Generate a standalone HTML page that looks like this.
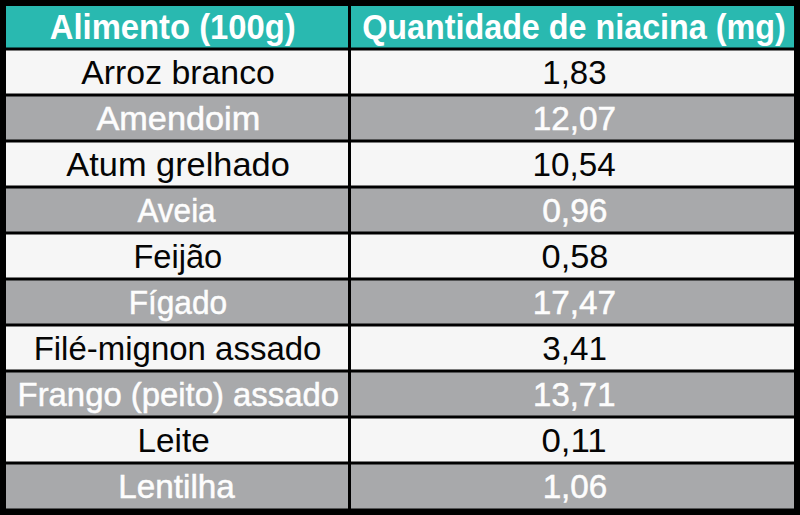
<!DOCTYPE html>
<html lang="pt"><head><meta charset="utf-8"><title>Niacina</title>
<style>
html,body{margin:0;padding:0;background:#000000;}
body{width:800px;height:515px;overflow:hidden;}
svg{display:block;}
text{font-family:"Liberation Sans",Arial,sans-serif;font-size:33.7px;}
.h{font-weight:bold;fill:#ffffff;font-size:34.4px;stroke:#29b9b0;stroke-width:0px;}
.d{fill:#050505;}
.l{fill:#fdfdfd;stroke:#fdfdfd;stroke-width:0.5px;}
</style></head><body>
<svg width="800" height="515" viewBox="0 0 800 515">
<rect x="0" y="0" width="800" height="515" fill="#000000"/>
<rect x="6" y="6" width="342" height="41.5" fill="#29b9b0"/>
<rect x="351" y="6" width="443" height="41.5" fill="#29b9b0"/>
<rect x="6" y="50.5" width="342" height="43.0" fill="#f6f6f6"/>
<rect x="351" y="50.5" width="443" height="43.0" fill="#f6f6f6"/>
<rect x="6" y="96.5" width="342" height="43.0" fill="#a8a9ab"/>
<rect x="351" y="96.5" width="443" height="43.0" fill="#a8a9ab"/>
<rect x="6" y="142.5" width="342" height="43.0" fill="#f6f6f6"/>
<rect x="351" y="142.5" width="443" height="43.0" fill="#f6f6f6"/>
<rect x="6" y="188.5" width="342" height="43.0" fill="#a8a9ab"/>
<rect x="351" y="188.5" width="443" height="43.0" fill="#a8a9ab"/>
<rect x="6" y="234.5" width="342" height="43.0" fill="#f6f6f6"/>
<rect x="351" y="234.5" width="443" height="43.0" fill="#f6f6f6"/>
<rect x="6" y="280.5" width="342" height="43.0" fill="#a8a9ab"/>
<rect x="351" y="280.5" width="443" height="43.0" fill="#a8a9ab"/>
<rect x="6" y="326.5" width="342" height="43.0" fill="#f6f6f6"/>
<rect x="351" y="326.5" width="443" height="43.0" fill="#f6f6f6"/>
<rect x="6" y="372.5" width="342" height="43.0" fill="#a8a9ab"/>
<rect x="351" y="372.5" width="443" height="43.0" fill="#a8a9ab"/>
<rect x="6" y="418.5" width="342" height="43.0" fill="#f6f6f6"/>
<rect x="351" y="418.5" width="443" height="43.0" fill="#f6f6f6"/>
<rect x="6" y="464.5" width="342" height="44.0" fill="#a8a9ab"/>
<rect x="351" y="464.5" width="443" height="44.0" fill="#a8a9ab"/>
<text class="h" x="172.78" y="38.5" text-anchor="middle" textLength="245.85" lengthAdjust="spacingAndGlyphs">Alimento (100g)</text>
<text class="h" x="573.95" y="38.5" text-anchor="middle" textLength="423.59" lengthAdjust="spacingAndGlyphs">Quantidade de niacina (mg)</text>
<text class="d" x="178.05" y="83.5" text-anchor="middle" textLength="193.63" lengthAdjust="spacingAndGlyphs">Arroz branco</text>
<text class="d" x="574.40" y="83.5" text-anchor="middle" textLength="64.17" lengthAdjust="spacingAndGlyphs">1,83</text>
<text class="l" x="178.35" y="129.5" text-anchor="middle" textLength="163.82" lengthAdjust="spacingAndGlyphs">Amendoim</text>
<text class="l" x="574.44" y="129.5" text-anchor="middle" textLength="83.33" lengthAdjust="spacingAndGlyphs">12,07</text>
<text class="d" x="178.04" y="175.5" text-anchor="middle" textLength="223.44" lengthAdjust="spacingAndGlyphs">Atum grelhado</text>
<text class="d" x="574.10" y="175.5" text-anchor="middle" textLength="83.09" lengthAdjust="spacingAndGlyphs">10,54</text>
<text class="l" x="176.55" y="221.5" text-anchor="middle" textLength="78.21" lengthAdjust="spacingAndGlyphs">Aveia</text>
<text class="l" x="574.87" y="221.5" text-anchor="middle" textLength="65.40" lengthAdjust="spacingAndGlyphs">0,96</text>
<text class="d" x="177.81" y="267.5" text-anchor="middle" textLength="88.80" lengthAdjust="spacingAndGlyphs">Feijão</text>
<text class="d" x="575.02" y="267.5" text-anchor="middle" textLength="66.87" lengthAdjust="spacingAndGlyphs">0,58</text>
<text class="l" x="177.91" y="313.5" text-anchor="middle" textLength="98.53" lengthAdjust="spacingAndGlyphs">Fígado</text>
<text class="l" x="574.44" y="313.5" text-anchor="middle" textLength="83.33" lengthAdjust="spacingAndGlyphs">17,47</text>
<text class="d" x="177.55" y="359.5" text-anchor="middle" textLength="287.79" lengthAdjust="spacingAndGlyphs">Filé-mignon assado</text>
<text class="d" x="574.56" y="359.5" text-anchor="middle" textLength="64.63" lengthAdjust="spacingAndGlyphs">3,41</text>
<text class="l" x="178.30" y="405.5" text-anchor="middle" textLength="321.42" lengthAdjust="spacingAndGlyphs">Frango (peito) assado</text>
<text class="l" x="574.30" y="405.5" text-anchor="middle" textLength="82.36" lengthAdjust="spacingAndGlyphs">13,71</text>
<text class="d" x="173.59" y="451.5" text-anchor="middle" textLength="72.16" lengthAdjust="spacingAndGlyphs">Leite</text>
<text class="d" x="574.12" y="451.5" text-anchor="middle" textLength="65.18" lengthAdjust="spacingAndGlyphs">0,11</text>
<text class="l" x="176.57" y="497.5" text-anchor="middle" textLength="116.49" lengthAdjust="spacingAndGlyphs">Lentilha</text>
<text class="l" x="575.00" y="497.5" text-anchor="middle" textLength="64.74" lengthAdjust="spacingAndGlyphs">1,06</text>
</svg>
</body></html>
